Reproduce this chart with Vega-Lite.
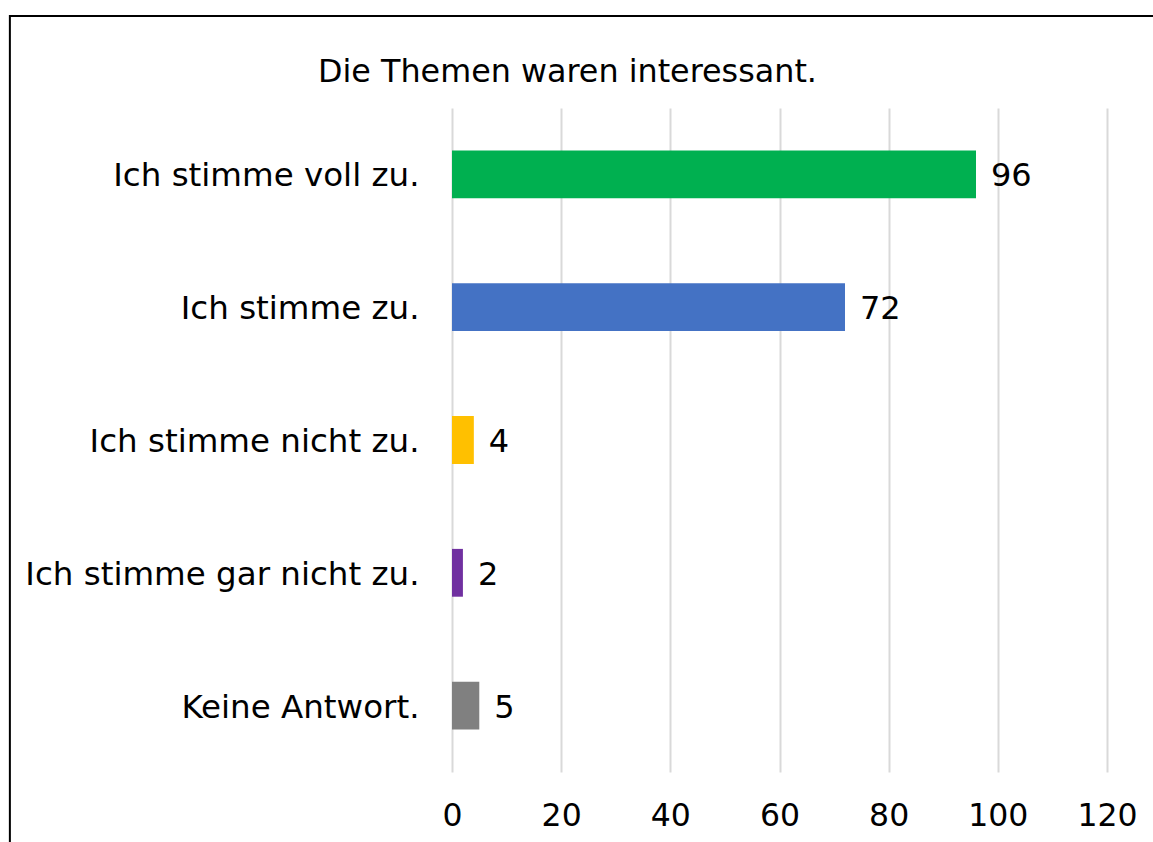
{
  "$schema": "https://vega.github.io/schema/vega-lite/v6.json",
  "autosize": "none",
  "width": 655,
  "height": 664,
  "padding": {"left": 452, "top": 108, "right": 46, "bottom": 70},
  "background": "white",
  "config": {
    "font": "DejaVu Sans",
    "view": {"stroke": null}
  },
  "title": {
    "text": "Die Themen waren interessant.",
    "anchor": "middle",
    "frame": "group",
    "dx": -212,
    "offset": -99,
    "baseline": "alphabetic",
    "fontSize": 31.8,
    "fontWeight": "normal",
    "color": "black",
    "font": "DejaVu Sans"
  },
  "data": {
    "values": [
      {"antwort": "Ich stimme voll zu.", "anzahl": 96, "farbe": "#00B050"},
      {"antwort": "Ich stimme zu.", "anzahl": 72, "farbe": "#4472C4"},
      {"antwort": "Ich stimme nicht zu.", "anzahl": 4, "farbe": "#FFC000"},
      {"antwort": "Ich stimme gar nicht zu.", "anzahl": 2, "farbe": "#7030A0"},
      {"antwort": "Keine Antwort.", "anzahl": 5, "farbe": "#808080"}
    ]
  },
  "resolve": {"scale": {"y": "independent"}},
  "layer": [
    {
      "encoding": {
        "y": {
          "field": "antwort",
          "type": "nominal",
          "sort": null,
          "scale": {"paddingInner": 0.64, "paddingOuter": 0.32},
          "axis": {
            "title": null,
            "domain": false,
            "ticks": false,
            "labelFontSize": 32.5,
            "labelColor": "black",
            "labelPadding": 33,
            "labelOffset": 2,
            "labelLimit": 500
          }
        },
        "x": {
          "field": "anzahl",
          "type": "quantitative",
          "scale": {"domain": [0, 120], "nice": false},
          "axis": {
            "title": null,
            "values": [0, 20, 40, 60, 80, 100, 120],
            "domain": false,
            "ticks": false,
            "grid": true,
            "gridColor": "#D9D9D9",
            "gridWidth": 2,
            "labelFontSize": 31.5,
            "labelColor": "black",
            "labelPadding": 28,
            "labelFlush": false
          }
        }
      },
      "layer": [
        {
          "mark": {"type": "bar"},
          "encoding": {
            "color": {"field": "farbe", "type": "nominal", "scale": null, "legend": null}
          }
        },
        {
          "mark": {"type": "text", "align": "left", "baseline": "middle", "dx": 15, "dy": 2, "fontSize": 32, "color": "black"},
          "encoding": {
            "text": {"field": "anzahl", "type": "quantitative"}
          }
        }
      ]
    },
    {
      "data": {"values": [{"x1": -81, "x2": 140, "y1": 1.1386, "y2": -0.3}]},
      "mark": {"type": "rect", "fill": null, "stroke": "black", "strokeWidth": 2, "clip": false},
      "encoding": {
        "x": {"field": "x1", "type": "quantitative"},
        "x2": {"field": "x2"},
        "y": {"field": "y1", "type": "quantitative", "scale": {"domain": [0, 1], "nice": false, "zero": false}, "axis": null},
        "y2": {"field": "y2"}
      }
    }
  ]
}
